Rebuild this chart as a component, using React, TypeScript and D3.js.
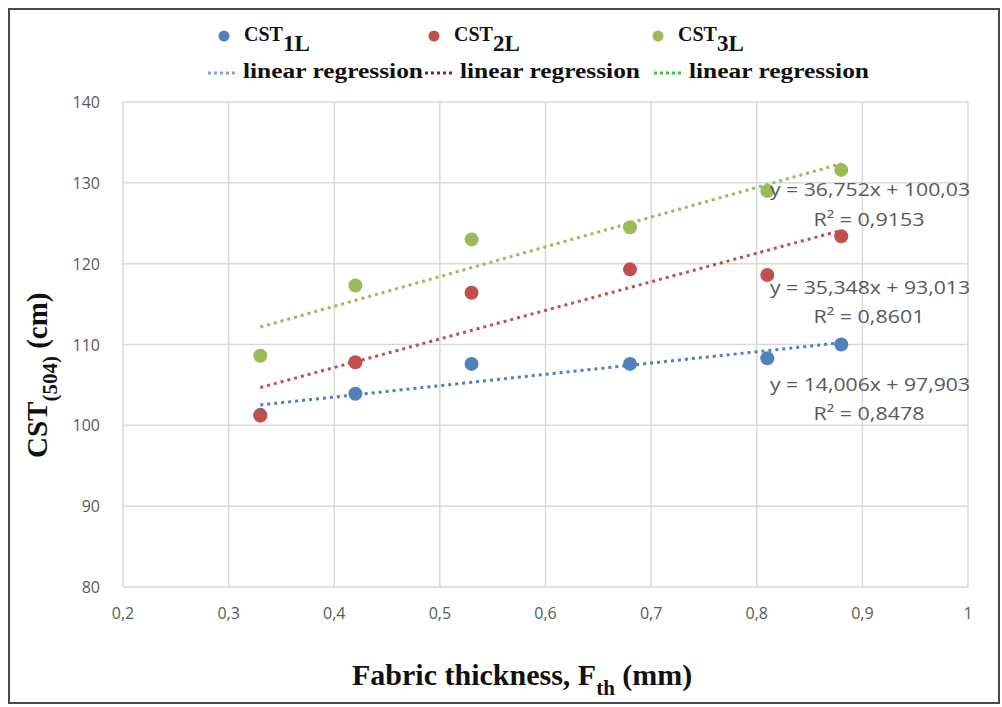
import React, { useEffect, useRef } from "react";
import * as d3 from "d3";

const thickness = [0.33, 0.42, 0.53, 0.68, 0.81, 0.88];
const cst1L = [101.3, 103.9, 107.6, 107.6, 108.3, 110.0];
const cst2L = [101.2, 107.8, 116.4, 119.3, 118.6, 123.4];
const cst3L = [108.6, 117.3, 123.0, 124.5, 129.0, 131.6];

const seriesNames = ["1L", "2L", "3L"];
const slopes = [14.006, 35.348, 36.752];
const intercepts = [97.903, 93.013, 100.03];
const eqLabels = ["y = 14,006x + 97,903", "y = 35,348x + 93,013", "y = 36,752x + 100,03"];
const r2Labels = ["R² = 0,8478", "R² = 0,8601", "R² = 0,9153"];

const xTicks = [0.2, 0.3, 0.4, 0.5, 0.6, 0.7, 0.8, 0.9, 1];
const yTicks = [80, 90, 100, 110, 120, 130, 140];

const colors = ["#4f81bd", "#c0504d", "#9bbb59"];
const legendLineColors = ["#7da3d8", "#8b1a3a", "#3cc43c"];

const App = () => {
  const svgRef = useRef<SVGSVGElement>(null);

  useEffect(() => {
    const svg = d3.select(svgRef.current);
    svg.selectAll("*").remove();

    const width = 1002;
    const height = 707;
    const margin = { top: 102, right: 34, bottom: 120, left: 123 };

    const x = d3.scaleLinear().domain([0.2, 1]).range([margin.left, width - margin.right]);
    const y = d3.scaleLinear().domain([80, 140]).range([height - margin.bottom, margin.top]);

    // outer frame
    svg.append("rect")
      .attr("x", 9).attr("y", 9)
      .attr("width", 990).attr("height", 694)
      .attr("fill", "white")
      .attr("stroke", "#4a4a4a")
      .attr("stroke-width", 2);

    // gridlines
    svg.append("g")
      .selectAll("line")
      .data(yTicks)
      .enter()
      .append("line")
      .attr("x1", x(0.2)).attr("x2", x(1))
      .attr("y1", (d) => y(d)).attr("y2", (d) => y(d))
      .attr("stroke", "#d9d9d9").attr("stroke-width", 1.5);

    svg.append("g")
      .selectAll("line")
      .data(xTicks)
      .enter()
      .append("line")
      .attr("x1", (d) => x(d)).attr("x2", (d) => x(d))
      .attr("y1", y(80)).attr("y2", y(140))
      .attr("stroke", "#d9d9d9").attr("stroke-width", 1.5);

    // tick labels
    const tickFont = "'Open Sans', 'Liberation Sans', sans-serif";
    svg.append("g")
      .selectAll("text")
      .data(yTicks)
      .enter()
      .append("text")
      .attr("x", x(0.2) - 23)
      .attr("y", (d) => y(d) + 6)
      .attr("text-anchor", "end")
      .attr("font-family", tickFont)
      .attr("font-size", 16)
      .attr("fill", "#595959")
      .text((d) => d);

    svg.append("g")
      .selectAll("text")
      .data(xTicks)
      .enter()
      .append("text")
      .attr("x", (d) => x(d))
      .attr("y", y(80) + 32)
      .attr("text-anchor", "middle")
      .attr("font-family", tickFont)
      .attr("font-size", 16)
      .attr("fill", "#595959")
      .text((d) => String(d).replace(".", ","));

    const allSeries = [cst1L, cst2L, cst3L];

    // trend lines
    allSeries.forEach((_, i) => {
      const x0 = d3.min(thickness) as number;
      const x1 = d3.max(thickness) as number;
      svg.append("line")
        .attr("x1", x(x0)).attr("y1", y(slopes[i] * x0 + intercepts[i]))
        .attr("x2", x(x1)).attr("y2", y(slopes[i] * x1 + intercepts[i]))
        .attr("stroke", colors[i])
        .attr("stroke-width", 3)
        .attr("stroke-dasharray", "3,4");
    });

    // points
    allSeries.forEach((values, i) => {
      svg.append("g")
        .selectAll("circle")
        .data(values)
        .enter()
        .append("circle")
        .attr("cx", (d, j) => x(thickness[j]))
        .attr("cy", (d) => y(d))
        .attr("r", 7)
        .attr("fill", colors[i]);
    });

    // equation labels
    const eqY = [[391, 420], [294, 323], [196, 226]];
    eqLabels.forEach((eq, i) => {
      svg.append("text")
        .attr("x", 870).attr("y", eqY[i][0])
        .attr("text-anchor", "middle")
        .attr("font-family", tickFont)
        .attr("font-size", 18)
        .attr("textLength", 200)
        .attr("lengthAdjust", "spacingAndGlyphs")
        .attr("fill", "#595959")
        .text(eq);
      svg.append("text")
        .attr("x", 869).attr("y", eqY[i][1])
        .attr("text-anchor", "middle")
        .attr("font-family", tickFont)
        .attr("font-size", 18)
        .attr("textLength", 111)
        .attr("lengthAdjust", "spacingAndGlyphs")
        .attr("fill", "#595959")
        .text(r2Labels[i]);
    });

    // legend
    const serif = "'Liberation Serif', 'DejaVu Serif', serif";
    const legendX = [224, 434, 658];
    seriesNames.forEach((name, i) => {
      svg.append("circle")
        .attr("cx", legendX[i]).attr("cy", 36).attr("r", 5.5)
        .attr("fill", colors[i]);
      const t = svg.append("text")
        .attr("x", legendX[i] + 20).attr("y", 41)
        .attr("font-family", serif)
        .attr("font-weight", "bold")
        .attr("font-size", 20)
        .attr("fill", "#111");
      t.append("tspan").text("CST");
      t.append("tspan").attr("dy", 10).attr("font-size", 23).text(name);
    });

    const lineX = [208, 425, 654];
    seriesNames.forEach((_, i) => {
      svg.append("line")
        .attr("x1", lineX[i]).attr("x2", lineX[i] + 30)
        .attr("y1", 73).attr("y2", 73)
        .attr("stroke", legendLineColors[i])
        .attr("stroke-width", 3)
        .attr("stroke-dasharray", "3,3");
      svg.append("text")
        .attr("x", lineX[i] + 35).attr("y", 78)
        .attr("font-family", serif)
        .attr("font-weight", "bold")
        .attr("font-size", 20)
        .attr("textLength", 180)
        .attr("lengthAdjust", "spacingAndGlyphs")
        .attr("fill", "#111")
        .text("linear regression");
    });

    // axis titles
    const xt = svg.append("text")
      .attr("x", 352).attr("y", 685)
      .attr("font-family", serif)
      .attr("font-weight", "bold")
      .attr("font-size", 30)
      .attr("fill", "#111");
    xt.append("tspan").text("Fabric thickness, F");
    xt.append("tspan").attr("dy", 10).attr("font-size", 21).text("th");
    xt.append("tspan").attr("dy", -10).text(" (mm)");

    const yt = svg.append("text")
      .attr("transform", "translate(47, 458) rotate(-90)")
      .attr("font-family", serif)
      .attr("font-weight", "bold")
      .attr("font-size", 29)
      .attr("fill", "#111");
    yt.append("tspan").text("CST");
    yt.append("tspan").attr("dy", 10).attr("font-size", 21).text("(504)");
    yt.append("tspan").attr("dy", -10).text(" (cm)");
  }, []);

  return (
    <svg
      ref={svgRef}
      width={1002}
      height={707}
      style={{ position: "absolute", left: 0, top: 0, background: "white" }}
    ></svg>
  );
};

export default App;
